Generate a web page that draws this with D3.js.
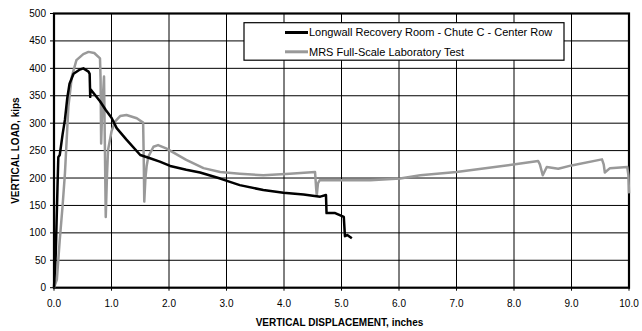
<!DOCTYPE html>
<html>
<head>
<meta charset="utf-8">
<script src="https://cdn.jsdelivr.net/npm/d3@7"></script>
<style>
  body { margin: 0; background: #fff; }
  svg { font-family: "Liberation Sans", Arial, sans-serif; }
</style>
</head>
<body>
<div id="chart"></div>
<script>
// series: [displacement in, load kips]
const longwall = [
  [0, 0], [0.03, 60], [0.06, 180], [0.075, 238], [0.1, 242], [0.15, 280], [0.19, 306],
  [0.23, 345], [0.27, 372], [0.34, 390], [0.45, 398], [0.51, 400], [0.6, 394], [0.62, 390],
  [0.63, 348], [0.635, 362], [0.8, 340], [0.9, 324], [1.0, 310], [1.09, 291], [1.26, 270],
  [1.5, 242], [1.67, 236], [1.84, 230], [2.02, 222], [2.3, 215], [2.54, 210], [2.89, 199],
  [3.23, 187], [3.64, 178], [3.99, 173], [4.34, 170], [4.63, 166], [4.73, 169], [4.74, 136],
  [4.89, 136], [5.04, 129], [5.06, 94], [5.1, 96], [5.18, 90]
];
const mrsTest = [
  [0, 0], [0.05, 15], [0.1, 87], [0.15, 150], [0.19, 208], [0.25, 330], [0.31, 385],
  [0.39, 415], [0.51, 426], [0.6, 430], [0.7, 428], [0.8, 418], [0.81, 380], [0.82, 263],
  [0.84, 330], [0.87, 385], [0.88, 300], [0.9, 129], [0.92, 200], [0.94, 251], [1.0, 285],
  [1.06, 303], [1.15, 313], [1.26, 315], [1.44, 309], [1.55, 301], [1.56, 240], [1.57, 157],
  [1.59, 200], [1.61, 221], [1.64, 239], [1.73, 257], [1.81, 260], [1.95, 254], [2.3, 233],
  [2.6, 218], [2.89, 211], [3.23, 208], [3.64, 205], [4.1, 208], [4.54, 211], [4.56, 180],
  [4.57, 169], [4.59, 190], [4.62, 196], [5.0, 196], [5.5, 196], [6.02, 199], [6.37, 205],
  [7.0, 211], [7.5, 218], [8.02, 225], [8.42, 231], [8.45, 225], [8.5, 205], [8.57, 220],
  [8.77, 217], [9.0, 223], [9.53, 234], [9.56, 225], [9.58, 210], [9.67, 218], [9.97, 220],
  [9.99, 205], [10.0, 172]
];
const seriesNames = ["Longwall Recovery Room - Chute C  - Center Row", "MRS Full-Scale Laboratory Test"];
const xTicks = [0, 1, 2, 3, 4, 5, 6, 7, 8, 9, 10];
const yTicks = [0, 50, 100, 150, 200, 250, 300, 350, 400, 450, 500];

const W = 642, H = 331;
const margin = { top: 13.5, right: 13, bottom: 43.3, left: 54 };
const width = W - margin.left - margin.right;
const height = H - margin.top - margin.bottom;

const x = d3.scaleLinear().domain([0, 10]).range([0, width]);
const y = d3.scaleLinear().domain([0, 500]).range([height, 0]);

const svg = d3.select("#chart").append("svg")
  .attr("width", W).attr("height", H)
  .append("g").attr("transform", `translate(${margin.left},${margin.top})`);

// frame
svg.append("rect").attr("width", width).attr("height", height)
  .attr("fill", "none").attr("stroke", "#000").attr("stroke-width", 2.2);

// grid + tick marks as paths
const gridPath = yTicks.slice(1, -1).map(d => `M0,${y(d)}H${width}`).join("")
  + xTicks.slice(1, -1).map(d => `M${x(d)},0V${height}`).join("");
svg.append("path").attr("d", gridPath).attr("fill", "none")
  .attr("stroke", "#000").attr("stroke-width", 1);
const tickPath = yTicks.map(d => `M-4,${y(d)}H0`).join("")
  + xTicks.map(d => `M${x(d)},${height}V${height + 3}`).join("");
svg.append("path").attr("d", tickPath).attr("fill", "none")
  .attr("stroke", "#000").attr("stroke-width", 1);

// tick labels
svg.append("g").selectAll("text").data(xTicks).enter().append("text")
  .attr("x", d => x(d)).attr("y", height + 19).attr("text-anchor", "middle")
  .attr("font-size", 10).text(d => d.toFixed(1));
svg.append("g").selectAll("text").data(yTicks).enter().append("text")
  .attr("x", -8).attr("y", d => y(d) + 3.5).attr("text-anchor", "end")
  .attr("font-size", 10).text(d => d);

const line = d3.line().x(d => x(d[0])).y(d => y(d[1]));

svg.append("path").datum(mrsTest).attr("d", line)
  .attr("fill", "none").attr("stroke", "#999").attr("stroke-width", 2.5).attr("stroke-linejoin", "round");
svg.append("path").datum(longwall).attr("d", line)
  .attr("fill", "none").attr("stroke", "#000").attr("stroke-width", 2.5).attr("stroke-linejoin", "round");

// legend
const lg = svg.append("g").attr("transform", `translate(${244 - margin.left},${22.7 - margin.top})`);
lg.append("rect").attr("width", 320).attr("height", 37.5)
  .attr("fill", "#fff").attr("stroke", "#000").attr("stroke-width", 1.2);
const colors = ["#000", "#999"];
seriesNames.forEach((name, i) => {
  const yy = 9.8 + i * 19.3;
  lg.append("line").attr("x1", 41).attr("x2", 64).attr("y1", yy).attr("y2", yy)
    .attr("stroke", colors[i]).attr("stroke-width", 3);
  lg.append("text").attr("x", 65).attr("y", yy + 4).attr("font-size", 11).text(name);
});

// titles
svg.append("text").attr("x", width / 2 - 2).attr("y", height + 38)
  .attr("text-anchor", "middle").attr("font-size", 10).attr("font-weight", "bold")
  .text("VERTICAL DISPLACEMENT, inches");
svg.append("text").attr("transform", `translate(${-35},${height / 2}) rotate(-90)`)
  .attr("text-anchor", "middle").attr("font-size", 10).attr("font-weight", "bold")
  .text("VERTICAL LOAD, kips");
</script>
</body>
</html>
